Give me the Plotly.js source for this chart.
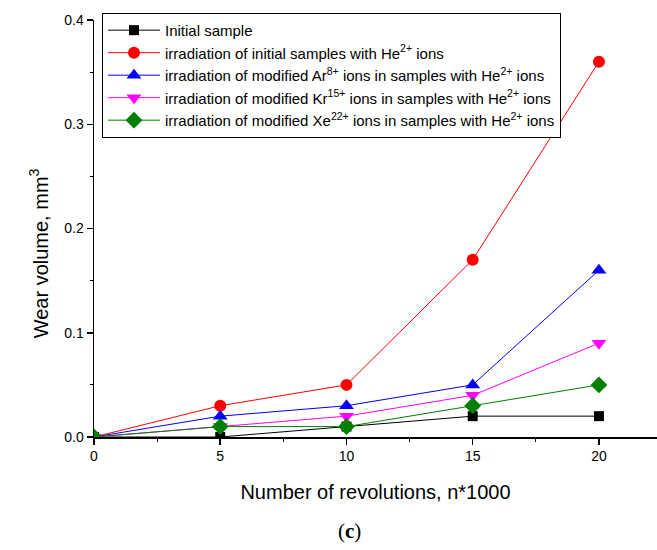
<!DOCTYPE html>
<html>
<head>
<meta charset="utf-8">
<script src="https://cdn.plot.ly/plotly-3.0.1.min.js"></script>
<style>html,body{margin:0;padding:0;background:#fff;}</style>
</head>
<body>
<div id="chart" style="width:657px;height:550px;"></div>
<script>
const revolutions = [0, 5, 10, 15, 20];
const initialSample = [0, 0, 0.01, 0.02, 0.02];
const heInitial = [0, 0.03, 0.05, 0.17, 0.36];
const arModified = [0, 0.02, 0.03, 0.05, 0.16];
const krModified = [0, 0.01, 0.02, 0.04, 0.09];
const xeModified = [0, 0.01, 0.01, 0.03, 0.05];
const seriesNames = [
  'Initial sample',
  'irradiation of initial samples with He<sup>2+</sup> ions',
  'irradiation of modified Ar<sup>8+</sup> ions in samples with He<sup>2+</sup> ions',
  'irradiation of modified Kr<sup>15+</sup> ions in samples with He<sup>2+</sup> ions',
  'irradiation of modified Xe<sup>22+</sup> ions in samples with He<sup>2+</sup> ions'
];
const seriesValues = [initialSample, heInitial, arModified, krModified, xeModified];
const colors = ['#000000', '#ff0000', '#0000ff', '#ff00ff', '#008000'];
const symbols = ['square', 'circle', 'triangle-up', 'triangle-down', 'diamond'];
const sizes = [10, 12, 13, 13, 13];

const traces = seriesValues.map((vals, i) => ({
  x: revolutions,
  y: vals,
  name: seriesNames[i],
  type: 'scatter',
  mode: 'lines+markers',
  line: {color: colors[i], width: 1},
  marker: {color: colors[i], symbol: symbols[i], size: sizes[i]}
}));

const font = 'Arial, "Liberation Sans", sans-serif';
const layout = {
  width: 657, height: 550,
  margin: {l: 94, r: 0, t: 20, b: 113},
  paper_bgcolor: '#fff', plot_bgcolor: '#fff',
  font: {family: font, size: 14, color: '#000'},
  showlegend: true,
  legend: {
    x: 0.0142, y: 1.017, xanchor: 'left', yanchor: 'top',
    bordercolor: '#000', borderwidth: 1, bgcolor: '#fff',
    font: {family: font, size: 15, color: '#000'},
    itemwidth: 52,
    tracegroupgap: 0
  },
  xaxis: {
    range: [0, 22.3],
    showgrid: false, zeroline: false,
    showline: true, linecolor: '#000', linewidth: 1.5,
    ticks: 'outside', ticklen: 6, tickwidth: 1.5, tickcolor: '#000',
    dtick: 5, tick0: 0,
    minor: {ticks: 'outside', ticklen: 3, tickwidth: 1, tickcolor: '#000', dtick: 2.5},
    tickfont: {family: font, size: 14},
    title: {text: 'Number of revolutions, n*1000', font: {family: font, size: 20}, standoff: 21}
  },
  yaxis: {
    range: [0, 0.4],
    showgrid: false, zeroline: false,
    showline: true, linecolor: '#000', linewidth: 1.5,
    ticks: 'outside', ticklen: 6, tickwidth: 1.5, tickcolor: '#000',
    dtick: 0.1, tick0: 0, tickformat: '.1f',
    minor: {ticks: 'outside', ticklen: 3, tickwidth: 1, tickcolor: '#000', dtick: 0.05},
    tickfont: {family: font, size: 14}
  },
  annotations: [{
    text: 'Wear volume, mm<sup>3</sup>', xref: 'paper', yref: 'paper',
    x: -0.098, y: 0.44, xanchor: 'center', yanchor: 'middle', textangle: -90,
    showarrow: false,
    font: {family: font, size: 20, color: '#000'}
  }, {
    text: '(<b>c</b>)', xref: 'paper', yref: 'paper',
    x: 0.453, y: -0.225, xanchor: 'center', yanchor: 'middle',
    showarrow: false,
    font: {family: '"Liberation Serif", "Times New Roman", serif', size: 21, color: '#000'}
  }]
};

Plotly.newPlot('chart', traces, layout, {displayModeBar: false, staticPlot: true});
</script>
</body>
</html>
